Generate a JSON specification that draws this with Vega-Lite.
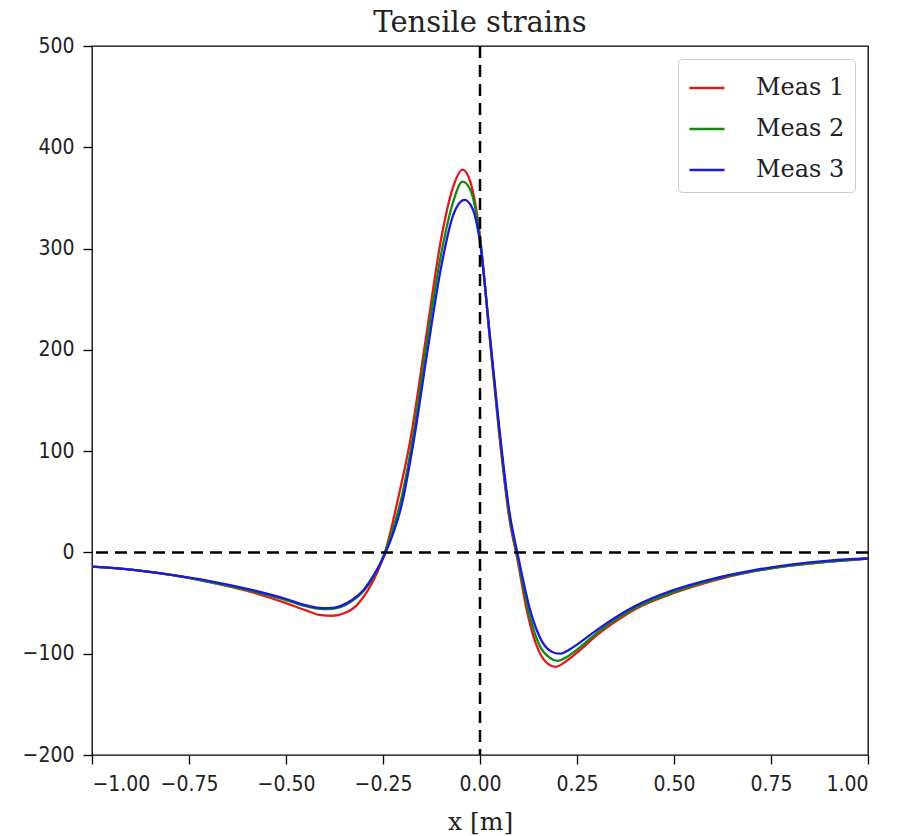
{
  "$schema": "https://vega.github.io/schema/vega-lite/v6.json",
  "autosize": {"type": "none"},
  "width": 776,
  "height": 709,
  "padding": {"left": 92, "top": 46, "right": 47, "bottom": 81},
  "background": "white",
  "title": {"text": "Tensile strains", "font": "DejaVu Serif", "fontSize": 29, "fontWeight": "normal", "color": "#222", "offset": -3},
  "config": {
    "view": {"stroke": "black", "strokeWidth": 1.3},
    "axis": {"grid": false, "domain": false, "tickColor": "black", "tickSize": 9, "tickWidth": 1.3, "labelFont": "DejaVu Sans Condensed, DejaVu Sans", "labelFontSize": 21, "labelColor": "#222", "labelPadding": 9}
  },
  "layer": [
    {
      "data": {"values": [
        {"s":"Meas 1","x":-1,"y":-14},{"s":"Meas 1","x":-0.9,"y":-17},{"s":"Meas 1","x":-0.8,"y":-22},{"s":"Meas 1","x":-0.7,"y":-29},{"s":"Meas 1","x":-0.6,"y":-38},{"s":"Meas 1","x":-0.5,"y":-50},{"s":"Meas 1","x":-0.45,"y":-57},{"s":"Meas 1","x":-0.41,"y":-62},{"s":"Meas 1","x":-0.38,"y":-62.5},{"s":"Meas 1","x":-0.35,"y":-60},{"s":"Meas 1","x":-0.32,"y":-53},{"s":"Meas 1","x":-0.29,"y":-38},{"s":"Meas 1","x":-0.265,"y":-20},{"s":"Meas 1","x":-0.245,"y":0},{"s":"Meas 1","x":-0.21,"y":55},{"s":"Meas 1","x":-0.18,"y":110},{"s":"Meas 1","x":-0.14,"y":210},{"s":"Meas 1","x":-0.1,"y":310},{"s":"Meas 1","x":-0.07,"y":360},{"s":"Meas 1","x":-0.045,"y":378},{"s":"Meas 1","x":-0.025,"y":366},{"s":"Meas 1","x":0,"y":312},{"s":"Meas 1","x":0.025,"y":212},{"s":"Meas 1","x":0.05,"y":115},{"s":"Meas 1","x":0.075,"y":35},{"s":"Meas 1","x":0.097,"y":-8},{"s":"Meas 1","x":0.12,"y":-56},{"s":"Meas 1","x":0.15,"y":-96},{"s":"Meas 1","x":0.175,"y":-110},{"s":"Meas 1","x":0.195,"y":-113},{"s":"Meas 1","x":0.22,"y":-108},{"s":"Meas 1","x":0.25,"y":-99},{"s":"Meas 1","x":0.3,"y":-82},{"s":"Meas 1","x":0.35,"y":-68},{"s":"Meas 1","x":0.4,"y":-56},{"s":"Meas 1","x":0.5,"y":-40},{"s":"Meas 1","x":0.6,"y":-28},{"s":"Meas 1","x":0.7,"y":-19},{"s":"Meas 1","x":0.8,"y":-13},{"s":"Meas 1","x":0.9,"y":-9},{"s":"Meas 1","x":1,"y":-6},
        {"s":"Meas 2","x":-1,"y":-14},{"s":"Meas 2","x":-0.9,"y":-17},{"s":"Meas 2","x":-0.8,"y":-22},{"s":"Meas 2","x":-0.7,"y":-29},{"s":"Meas 2","x":-0.6,"y":-37},{"s":"Meas 2","x":-0.5,"y":-47},{"s":"Meas 2","x":-0.45,"y":-53},{"s":"Meas 2","x":-0.42,"y":-55.5},{"s":"Meas 2","x":-0.39,"y":-56},{"s":"Meas 2","x":-0.36,"y":-54},{"s":"Meas 2","x":-0.33,"y":-48},{"s":"Meas 2","x":-0.3,"y":-38},{"s":"Meas 2","x":-0.27,"y":-21},{"s":"Meas 2","x":-0.245,"y":0},{"s":"Meas 2","x":-0.2,"y":58},{"s":"Meas 2","x":-0.17,"y":120},{"s":"Meas 2","x":-0.14,"y":200},{"s":"Meas 2","x":-0.1,"y":295},{"s":"Meas 2","x":-0.07,"y":345},{"s":"Meas 2","x":-0.045,"y":366},{"s":"Meas 2","x":-0.025,"y":358},{"s":"Meas 2","x":0,"y":310},{"s":"Meas 2","x":0.025,"y":214},{"s":"Meas 2","x":0.05,"y":118},{"s":"Meas 2","x":0.075,"y":38},{"s":"Meas 2","x":0.098,"y":-7},{"s":"Meas 2","x":0.125,"y":-58},{"s":"Meas 2","x":0.155,"y":-93},{"s":"Meas 2","x":0.18,"y":-104},{"s":"Meas 2","x":0.2,"y":-107},{"s":"Meas 2","x":0.225,"y":-103},{"s":"Meas 2","x":0.25,"y":-96},{"s":"Meas 2","x":0.3,"y":-80},{"s":"Meas 2","x":0.35,"y":-66},{"s":"Meas 2","x":0.4,"y":-55},{"s":"Meas 2","x":0.5,"y":-39},{"s":"Meas 2","x":0.6,"y":-27},{"s":"Meas 2","x":0.7,"y":-19},{"s":"Meas 2","x":0.8,"y":-13},{"s":"Meas 2","x":0.9,"y":-9},{"s":"Meas 2","x":1,"y":-6},
        {"s":"Meas 3","x":-1,"y":-14},{"s":"Meas 3","x":-0.9,"y":-17},{"s":"Meas 3","x":-0.8,"y":-22},{"s":"Meas 3","x":-0.7,"y":-28},{"s":"Meas 3","x":-0.6,"y":-36},{"s":"Meas 3","x":-0.5,"y":-46},{"s":"Meas 3","x":-0.45,"y":-52},{"s":"Meas 3","x":-0.42,"y":-54.5},{"s":"Meas 3","x":-0.39,"y":-55},{"s":"Meas 3","x":-0.36,"y":-53},{"s":"Meas 3","x":-0.33,"y":-47},{"s":"Meas 3","x":-0.3,"y":-37},{"s":"Meas 3","x":-0.27,"y":-20},{"s":"Meas 3","x":-0.243,"y":0},{"s":"Meas 3","x":-0.2,"y":50},{"s":"Meas 3","x":-0.17,"y":112},{"s":"Meas 3","x":-0.135,"y":200},{"s":"Meas 3","x":-0.1,"y":282},{"s":"Meas 3","x":-0.07,"y":332},{"s":"Meas 3","x":-0.04,"y":348},{"s":"Meas 3","x":-0.02,"y":340},{"s":"Meas 3","x":0,"y":306},{"s":"Meas 3","x":0.025,"y":216},{"s":"Meas 3","x":0.05,"y":122},{"s":"Meas 3","x":0.075,"y":42},{"s":"Meas 3","x":0.1,"y":-7},{"s":"Meas 3","x":0.13,"y":-58},{"s":"Meas 3","x":0.16,"y":-88},{"s":"Meas 3","x":0.185,"y":-98},{"s":"Meas 3","x":0.205,"y":-100},{"s":"Meas 3","x":0.23,"y":-96},{"s":"Meas 3","x":0.25,"y":-91},{"s":"Meas 3","x":0.3,"y":-77},{"s":"Meas 3","x":0.35,"y":-64},{"s":"Meas 3","x":0.4,"y":-53},{"s":"Meas 3","x":0.5,"y":-37},{"s":"Meas 3","x":0.6,"y":-26},{"s":"Meas 3","x":0.7,"y":-18},{"s":"Meas 3","x":0.8,"y":-12},{"s":"Meas 3","x":0.9,"y":-8},{"s":"Meas 3","x":1,"y":-6}
      ]},
      "mark": {"type": "line", "interpolate": "monotone", "strokeWidth": 2.3, "clip": true},
      "encoding": {
        "x": {"field": "x", "type": "quantitative", "scale": {"domain": [-1, 1], "nice": false, "zero": false}, "axis": {"values": [-1, -0.75, -0.5, -0.25, 0, 0.25, 0.5, 0.75, 1], "format": ".2f", "title": "x [m]", "titleFont": "DejaVu Serif", "titleFontSize": 25, "titleFontWeight": "normal", "titleColor": "#222", "titleBaseline": "alphabetic", "titlePadding": 35}},
        "y": {"field": "y", "type": "quantitative", "scale": {"domain": [-200, 500], "nice": false}, "axis": {"values": [-200, -100, 0, 100, 200, 300, 400, 500], "title": null}},
        "color": {"field": "s", "type": "nominal", "scale": {"domain": ["Meas 1", "Meas 2", "Meas 3"], "range": ["#e01a1a", "#128a12", "#1a1ad8"]}, "legend": {"title": null, "orient": "top-right", "offset": 13, "strokeColor": "#cccccc", "fillColor": "white", "padding": 10, "cornerRadius": 4, "labelFont": "DejaVu Serif", "labelFontSize": 24, "labelColor": "#222", "symbolType": "stroke", "symbolSize": 1225, "symbolStrokeWidth": 2.5, "rowPadding": 10, "labelOffset": 30}}
      }
    },
    {
      "data": {"values": [{"v": 0}]},
      "mark": {"type": "rule", "color": "black", "strokeWidth": 2.5, "strokeDash": [12, 7]},
      "encoding": {"x": {"field": "v", "type": "quantitative"}}
    },
    {
      "data": {"values": [{"v": 0}]},
      "mark": {"type": "rule", "color": "black", "strokeWidth": 2.5, "strokeDash": [12, 7]},
      "encoding": {"y": {"field": "v", "type": "quantitative"}}
    }
  ]
}
